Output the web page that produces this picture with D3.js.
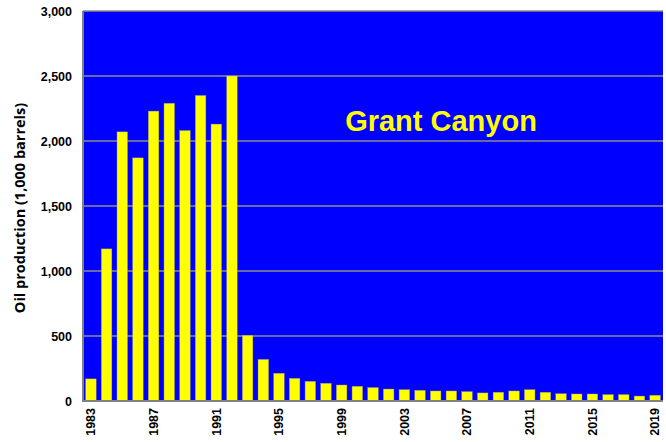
<!DOCTYPE html>
<html>
<head>
<meta charset="utf-8">
<script src="https://cdn.jsdelivr.net/npm/d3@7"></script>
<style>
  html, body { margin: 0; padding: 0; background: #fff; }
  svg { display: block; font-family: Arial, "Liberation Sans", sans-serif; }
</style>
</head>
<body>
<svg id="chart" width="666" height="442"></svg>
<script>
// Annual oil production, Grant Canyon field (thousand barrels)
const years = d3.range(1983, 2020);
const production = [
  170, 1170, 2070, 1870, 2230, 2290, 2080, 2350, 2130, 2500,
  505, 320, 213, 174, 151, 136, 123, 113, 103, 92,
  87, 82, 77, 77, 72, 62, 67, 77, 87, 67,
  56, 54, 54, 49, 49, 38, 44
];
const yTicks = [0, 500, 1000, 1500, 2000, 2500, 3000];
const xTickYears = [1983, 1987, 1991, 1995, 1999, 2003, 2007, 2011, 2015, 2019];
const chartTitle = "Grant Canyon";
const yTitle = "Oil production (1,000 barrels)";

const svg = d3.select("#chart");
const plot = { left: 83, right: 663, top: 11, bottom: 401 };

const x = d3.scaleBand()
  .domain(years)
  .range([plot.left, plot.right])
  .paddingInner(0.33)
  .paddingOuter(0.17);

const y = d3.scaleLinear()
  .domain([0, 3000])
  .range([plot.bottom, plot.top]);

// plot background
svg.append("rect")
  .attr("x", plot.left).attr("y", plot.top)
  .attr("width", plot.right - plot.left)
  .attr("height", plot.bottom - plot.top)
  .attr("fill", "#0000ff");

// horizontal gridlines
svg.append("g")
  .selectAll("line")
  .data(yTicks.filter(d => d > 0))
  .join("line")
  .attr("x1", plot.left).attr("x2", plot.right)
  .attr("y1", d => y(d)).attr("y2", d => y(d))
  .attr("stroke", "#8c8c8c")
  .attr("stroke-width", 1.5);

// bars
svg.append("g")
  .selectAll("rect")
  .data(years.map((yr, i) => ({ yr, v: production[i] })))
  .join("rect")
  .attr("x", d => x(d.yr))
  .attr("width", x.bandwidth())
  .attr("y", d => y(d.v))
  .attr("height", d => y(0) - y(d.v))
  .attr("fill", "#ffff00")
  .attr("stroke", "#a0a060")
  .attr("stroke-width", 0.4);

// axis lines
svg.append("line")
  .attr("x1", plot.left).attr("x2", plot.left)
  .attr("y1", plot.top).attr("y2", plot.bottom)
  .attr("stroke", "#808080").attr("stroke-width", 2);
svg.append("line")
  .attr("x1", plot.left - 1).attr("x2", plot.right)
  .attr("y1", plot.bottom).attr("y2", plot.bottom)
  .attr("stroke", "#808080").attr("stroke-width", 2);

// y-axis tick labels
const yAxis = d3.axisLeft(y)
  .tickValues(yTicks)
  .tickFormat(d3.format(","))
  .tickSize(0)
  .tickPadding(11);
const gy = svg.append("g")
  .attr("transform", `translate(${plot.left},0)`)
  .call(yAxis);
gy.select(".domain").remove();
gy.selectAll("text")
  .attr("font-size", 12.5)
  .attr("font-weight", "bold")
  .attr("font-family", "Arial, 'Liberation Sans', sans-serif")
  .attr("fill", "#000");

// x-axis tick labels (rotated)
const xAxis = d3.axisBottom(x)
  .tickValues(xTickYears)
  .tickSize(0)
  .tickPadding(0);
const gx = svg.append("g")
  .attr("transform", `translate(0,${plot.bottom})`)
  .call(xAxis);
gx.select(".domain").remove();
gx.selectAll("text")
  .attr("font-size", 12.5)
  .attr("font-weight", "bold")
  .attr("font-family", "Arial, 'Liberation Sans', sans-serif")
  .attr("fill", "#000")
  .attr("transform", "rotate(-90)")
  .attr("text-anchor", "end")
  .attr("dy", "0.35em")
  .attr("x", -7)
  .attr("y", 0);

// y-axis title
svg.append("text")
  .attr("transform", "translate(25,208) rotate(-90)")
  .attr("text-anchor", "middle")
  .attr("font-family", "'Open Sans', sans-serif")
  .attr("font-size", 14.5)
  .attr("font-weight", "bold")
  .attr("fill", "#000")
  .text(yTitle);

// chart title inside the plot
svg.append("text")
  .attr("x", 441)
  .attr("y", 131)
  .attr("text-anchor", "middle")
  .attr("font-size", 29)
  .attr("font-weight", "bold")
  .attr("fill", "#ffff00")
  .text(chartTitle);
</script>
</body>
</html>
